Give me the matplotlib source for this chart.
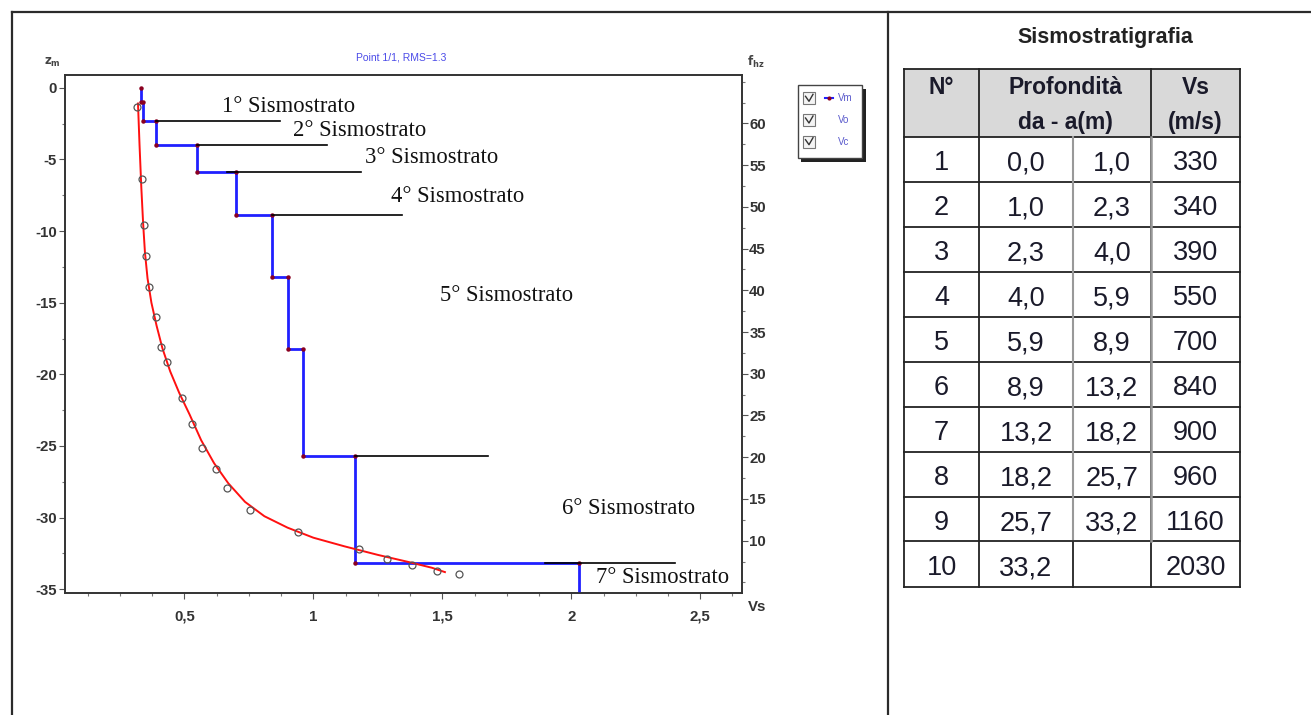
import numpy as np
import matplotlib
matplotlib.use("Agg")
import matplotlib.pyplot as plt
from matplotlib.patches import Rectangle
from matplotlib.ticker import MultipleLocator, FixedLocator

plt.rcParams['axes.unicode_minus'] = False
plt.rcParams['font.family'] = ['Liberation Sans', 'DejaVu Sans']

# --- data (Vs in km/s, depth in m) ---
layer_n = [1, 2, 3, 4, 5, 6, 7, 8, 9, 10]
depth_top = [0.0, 1.0, 2.3, 4.0, 5.9, 8.9, 13.2, 18.2, 25.7, 33.2]
depth_bot = [1.0, 2.3, 4.0, 5.9, 8.9, 13.2, 18.2, 25.7, 33.2, None]
vs_ms = [330, 340, 390, 550, 700, 840, 900, 960, 1160, 2030]
last_bottom = 35.4

# observed dispersion points (Vo)
vel_obs = [0.317, 0.337, 0.343, 0.351, 0.362, 0.388, 0.411, 0.433, 0.491, 0.530,
           0.568, 0.623, 0.665, 0.756, 0.94, 1.176, 1.286, 1.382, 1.48, 1.566]
dep_obs = [1.36, 6.38, 9.6, 11.74, 13.93, 16.02, 18.09, 19.16, 21.63, 23.49,
           25.12, 26.60, 27.91, 29.5, 31.0, 32.2, 32.9, 33.3, 33.7, 33.9]

# computed curve (Vc)
vel_calc = [0.320, 0.326, 0.333, 0.340, 0.347, 0.357, 0.372, 0.392, 0.415, 0.445,
            0.480, 0.520, 0.565, 0.615, 0.670, 0.735, 0.81, 0.90, 1.00, 1.12,
            1.25, 1.37, 1.46, 1.51]
dep_calc = [1.1, 4.0, 7.0, 9.5, 11.5, 13.3, 15.0, 16.6, 18.2, 19.8,
            21.3, 22.8, 24.6, 26.2, 27.6, 28.9, 29.9, 30.7, 31.4, 32.0,
            32.6, 33.1, 33.5, 33.8]

# boundary marker lines
bound_depth = [2.3, 4.0, 5.9, 8.9, 25.7, 33.2]
bound_x0 = [0.39, 0.55, 0.664, 0.84, 1.16, 1.898]
bound_x1 = [0.871, 1.052, 1.185, 1.343, 1.677, 2.402]

strato_labels = ['1° Sismostrato', '2° Sismostrato', '3° Sismostrato', '4° Sismostrato',
                 '5° Sismostrato', '6° Sismostrato', '7° Sismostrato']
strato_x = [0.646, 0.921, 1.200, 1.301, 1.491, 1.964, 2.096]
strato_y = [-1.28, -2.95, -4.84, -7.56, -14.53, -29.33, -34.21]

xtick_vals = [0.5, 1.0, 1.5, 2.0, 2.5]
xtick_labels = ['0,5', '1', '1,5', '2', '2,5']
ytick_vals = [0, -5, -10, -15, -20, -25, -30, -35]
ftick_vals = [10, 15, 20, 25, 30, 35, 40, 45, 50, 55, 60]

W, H = 1311, 715
fig = plt.figure(figsize=(W / 100, H / 100), dpi=100)

# overlay in pixel coords for frame, legend and table
ov = fig.add_axes([0, 0, 1, 1])
ov.set_xlim(0, W)
ov.set_ylim(H, 0)
ov.axis('off')

frame_c = '#2b2b2b'
ov.plot([12, 12], [12, H], color=frame_c, lw=1.6)
ov.plot([12, W], [12, 12], color=frame_c, lw=1.6)
ov.plot([888, 888], [12, H], color=frame_c, lw=1.6)

# --- profile chart ---
ax = fig.add_axes([65 / W, 1 - 593.3 / H, (742.3 - 65) / W, (593.3 - 75) / H])
ax.set_xlim(0.037, 2.663)
ax.set_ylim(-35.28, 0.89)

# blue step model (Vm)
bx, by = [], []
for i in range(len(vs_ms)):
    v = vs_ms[i] / 1000
    bot = depth_bot[i] if depth_bot[i] is not None else last_bottom
    bx += [v, v]
    by += [-depth_top[i], -bot]
ax.plot(bx, by, color='#2020ff', lw=2.0, zorder=3, solid_joinstyle='miter')
ax.plot(bx[:-1], by[:-1], ls='none', marker='o', ms=2.2, color='#8b0020', zorder=4)

for d, x0, x1 in zip(bound_depth, bound_x0, bound_x1):
    ax.plot([x0, x1], [-d, -d], color='black', lw=1.2, zorder=4)

ax.plot(vel_calc, [-d for d in dep_calc], color='#ff1010', lw=1.4, zorder=5)
ax.plot(vel_obs, [-d for d in dep_obs], ls='none', marker='o', ms=5, mfc='none',
        mec='#555555', mew=0.9, zorder=6)

for lab, x, y in zip(strato_labels, strato_x, strato_y):
    ax.text(x, y, lab, fontsize=16.3, family='Liberation Serif', va='center', ha='left',
            color='#111111', zorder=7)

ax.xaxis.set_major_locator(FixedLocator(xtick_vals))
ax.set_xticklabels(xtick_labels)
ax.xaxis.set_minor_locator(MultipleLocator(0.125))
ax.yaxis.set_major_locator(FixedLocator(ytick_vals))
ax.yaxis.set_minor_locator(MultipleLocator(2.5))
for sp in ax.spines.values():
    sp.set_color('#333333')
    sp.set_linewidth(1.2)
ax.tick_params(which='major', length=4, width=0.8, color='#555555', labelsize=10.8,
               labelcolor='#333333', pad=2)
ax.tick_params(which='minor', length=2.5, width=0.8, color='#777777')
for t in ax.get_xticklabels() + ax.get_yticklabels():
    t.set_fontweight('bold')
ax.tick_params(axis='x', pad=8)

ax2 = ax.twinx()
ax2.set_ylim(3.69, 65.8)
ax2.yaxis.set_major_locator(FixedLocator(ftick_vals))
ax2.yaxis.set_minor_locator(MultipleLocator(2.5))
ax2.tick_params(which='major', length=4, width=0.8, color='#555555', labelsize=10.8,
                labelcolor='#333333', pad=1)
ax2.tick_params(which='minor', length=2.5, width=0.8, color='#777777')
for t in ax2.get_yticklabels():
    t.set_fontweight('bold')
for sp in ax2.spines.values():
    sp.set_color('#333333')
    sp.set_linewidth(1.2)

ov.text(401, 57, 'Point 1/1, RMS=1.3', color='#4a4ae8', fontsize=7.5, ha='center', va='center')
ov.text(52, 62, r'$\mathbf{z}_{\mathbf{m}}$', fontsize=8.5, color='#444444', ha='center', va='center')
ov.text(756, 62, r'$\mathbf{f}_{\mathbf{hz}}$', fontsize=8.5, color='#444444', ha='center', va='center')
ov.text(757, 607, 'Vs', fontsize=10.8, fontweight='bold', color='#333333', ha='center', va='center')

# legend box
ov.add_patch(Rectangle((801, 88.5), 64.6, 73.3, facecolor='#222222', edgecolor='none'))
ov.add_patch(Rectangle((797.7, 85), 64.6, 73.3, facecolor='white', edgecolor='#444444', lw=1))
for yy, name in zip([98.3, 120, 141.7], ['Vm', 'Vo', 'Vc']):
    ov.add_patch(Rectangle((803, yy - 6), 12, 12, facecolor='#f4f4f4', edgecolor='#777777', lw=0.8))
    ov.plot([805.5, 809, 813], [yy - 2, yy + 3, yy - 4], color='#333333', lw=1)
    ov.text(838, yy, name, fontsize=7, color='#5a5acc', ha='left', va='center')
ov.plot([825, 833], [98.3, 98.3], color='#2020ff', lw=1.5)
ov.plot([829], [98.3], marker='o', ms=2, color='#8b0020')

# --- table ---
ov.text(1105, 38, 'Sismostratigrafia', fontsize=15.5, fontweight='bold', ha='center', va='center',
        color='#222222')
cx = [904, 979.3, 1072.7, 1150.7, 1240]
ry = [69.3, 136.7, 181.7, 226.7, 271.7, 316.7, 361.7, 406.7, 451.7, 496.7, 541.3, 587]
ov.add_patch(Rectangle((cx[0], ry[0]), cx[-1] - cx[0], ry[1] - ry[0], facecolor='#d9d9d9',
                       edgecolor='none'))
txt_c = '#1a1a2a'
hfs = 16.5
ov.text((cx[0] + cx[1]) / 2, 87, 'N°', fontsize=hfs, fontweight='bold', ha='center', va='center', color=txt_c)
ov.text((cx[1] + cx[3]) / 2, 87, 'Profondità', fontsize=hfs, fontweight='bold', ha='center', va='center', color=txt_c)
ov.text((cx[1] + cx[3]) / 2, 123, 'da - a(m)', fontsize=hfs, fontweight='bold', ha='center', va='center', color=txt_c)
ov.text((cx[3] + cx[4]) / 2, 87, 'Vs', fontsize=hfs, fontweight='bold', ha='center', va='center', color=txt_c)
ov.text((cx[3] + cx[4]) / 2, 123, '(m/s)', fontsize=hfs, fontweight='bold', ha='center', va='center', color=txt_c)


def fmt(v):
    return '' if v is None else f'{v:.1f}'.replace('.', ',')


for i in range(len(layer_n)):
    yc = (ry[i + 1] + ry[i + 2]) / 2 + 4
    cells = [str(layer_n[i]), fmt(depth_top[i]), fmt(depth_bot[i]), str(vs_ms[i])]
    for j, s in enumerate(cells):
        ov.text((cx[j] + cx[j + 1]) / 2, yc, s, fontsize=19.5, ha='center', va='center', color=txt_c)

# grid lines
for y in ry:
    ov.plot([cx[0], cx[-1]], [y, y], color='#222222', lw=1.3)
for x in [cx[0], cx[1], cx[3], cx[4]]:
    ov.plot([x, x], [ry[0], ry[-1]], color='#222222', lw=1.3)
ov.plot([cx[2], cx[2]], [ry[1], ry[-2]], color='#999999', lw=1.5)
ov.plot([cx[2], cx[2]], [ry[-2], ry[-1]], color='#222222', lw=1.3)
ov.plot([cx[3], cx[3]], [ry[1], ry[-2]], color='#999999', lw=1.8)

fig.savefig('out.png', dpi=100)
